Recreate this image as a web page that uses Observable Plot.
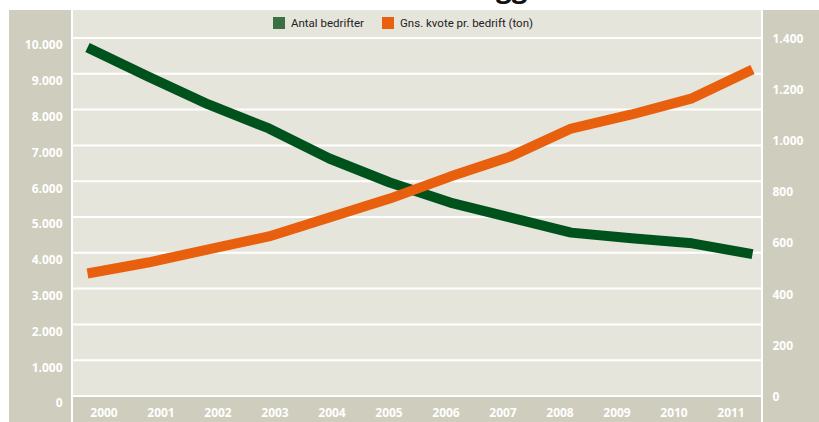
<!DOCTYPE html>
<html><head><meta charset="utf-8">
<script src="https://cdn.jsdelivr.net/npm/d3@7"></script>
<script src="https://cdn.jsdelivr.net/npm/@observablehq/plot@0.6"></script>
<style>
body{margin:0;background:#fff;}
#wrap{position:relative;width:819px;height:422px;overflow:hidden;}
#wrap .panel{position:absolute;background:#cfcdbd;}
#wrap svg{position:absolute;left:0;top:0;}
#legend{position:absolute;left:273px;top:16px;display:flex;align-items:center;font-family:Roboto,"Open Sans",sans-serif;font-size:11.5px;color:#222;white-space:nowrap;}
#legend .sw{width:12px;height:12px;margin-right:6px;}
#legend .item{display:flex;align-items:center;margin-right:18px;}
#titlefrag{position:absolute;left:496px;top:-31px;font-family:"Open Sans",sans-serif;font-weight:700;font-size:28px;line-height:34px;color:#111;}
</style></head><body><div id="wrap"></div>
<script>
const years = [2000,2001,2002,2003,2004,2005,2006,2007,2008,2009,2010,2011];
const antalBedrifter = [9720,8910,8130,7460,6620,5950,5390,4970,4550,4390,4250,3950];
const gnsKvote = [477,520,571,622,696,770,856,935,1044,1099,1162,1275];
const leftTicks = [0,1000,2000,3000,4000,5000,6000,7000,8000,9000,10000];
const rightTicks = [0,200,400,600,800,1000,1200,1400];
const seriesNames = ["Antal bedrifter","Gns. kvote pr. bedrift (ton)"];
const titleFragment = "gg";
const lineColors = ["#00521d","#e8600e"];
const legendColors = ["#3b7044","#e8600e"];

const leftMax = 10000, rightMax = 1400, ratio = leftMax / rightMax;
const fmt = d => d3.format(",")(d).replace(/,/g, ".");

const W = 819, H = 422;
const wrap = document.getElementById("wrap");

// cut-off title (only descenders visible)
const tf = document.createElement("div");
tf.id = "titlefrag";
tf.textContent = titleFragment;
wrap.appendChild(tf);

// background panels
const panels = [
  {left: 9, top: 10, width: 62, height: 412, bg: "#cfcdbd"},
  {left: 73, top: 10, width: 688, height: 385, bg: "#e6e5db"},
  {left: 73, top: 397, width: 688, height: 25, bg: "#cfcdbd"},
  {left: 763, top: 10, width: 56, height: 412, bg: "#cfcdbd"}
];
for (const p of panels) {
  const d = document.createElement("div");
  d.className = "panel";
  Object.assign(d.style, {left: p.left + "px", top: p.top + "px", width: p.width + "px", height: p.height + "px", background: p.bg});
  wrap.appendChild(d);
}

const labelFont = {fill: "white", fontFamily: "'Open Sans', sans-serif", fontWeight: 700, fontSize: 12};

// axes / grid layer
const axes = Plot.plot({
  width: W, height: H,
  marginLeft: 73, marginRight: 58, marginTop: 37, marginBottom: 27,
  style: {background: "transparent", overflow: "visible"},
  x: {type: "band", domain: years, padding: 0, axis: null},
  y: {domain: [0, leftMax], axis: null},
  marks: [
    Plot.ruleY(leftTicks, {y: d => d, stroke: "white", strokeWidth: 2, dy: 0.5}),
    Plot.text(leftTicks, {y: d => d, text: fmt, frameAnchor: "left", textAnchor: "end", dx: -11, dy: 8, ...labelFont}),
    Plot.text(rightTicks, {y: d => d * ratio, text: fmt, frameAnchor: "right", textAnchor: "start", dx: 11, dy: 1.5, ...labelFont}),
    Plot.text(years, {x: d => d, text: d => String(d), frameAnchor: "bottom", dy: 21, ...labelFont})
  ]
});
wrap.appendChild(axes);

// lines layer
const rows = years.map((y, i) => ({year: y, antal: antalBedrifter[i], kvote: gnsKvote[i]}));
const lines = Plot.plot({
  width: W, height: H,
  marginLeft: 87, marginRight: 67, marginTop: 37, marginBottom: 27,
  style: {background: "transparent", overflow: "visible"},
  x: {domain: [2000, 2011], axis: null},
  y: {domain: [0, leftMax], axis: null},
  marks: [
    Plot.line(rows, {x: "year", y: "antal", stroke: lineColors[0], strokeWidth: 10, strokeLinecap: "butt", strokeLinejoin: "round"}),
    Plot.line(rows, {x: "year", y: d => d.kvote * ratio, stroke: lineColors[1], strokeWidth: 10, strokeLinecap: "butt", strokeLinejoin: "round"})
  ]
});
wrap.appendChild(lines);

// legend
const leg = document.createElement("div");
leg.id = "legend";
seriesNames.forEach((n, i) => {
  const it = document.createElement("div");
  it.className = "item";
  const sw = document.createElement("div");
  sw.className = "sw";
  sw.style.background = legendColors[i];
  const t = document.createElement("span");
  t.textContent = n;
  it.appendChild(sw); it.appendChild(t);
  leg.appendChild(it);
});
wrap.appendChild(leg);
</script></body></html>
